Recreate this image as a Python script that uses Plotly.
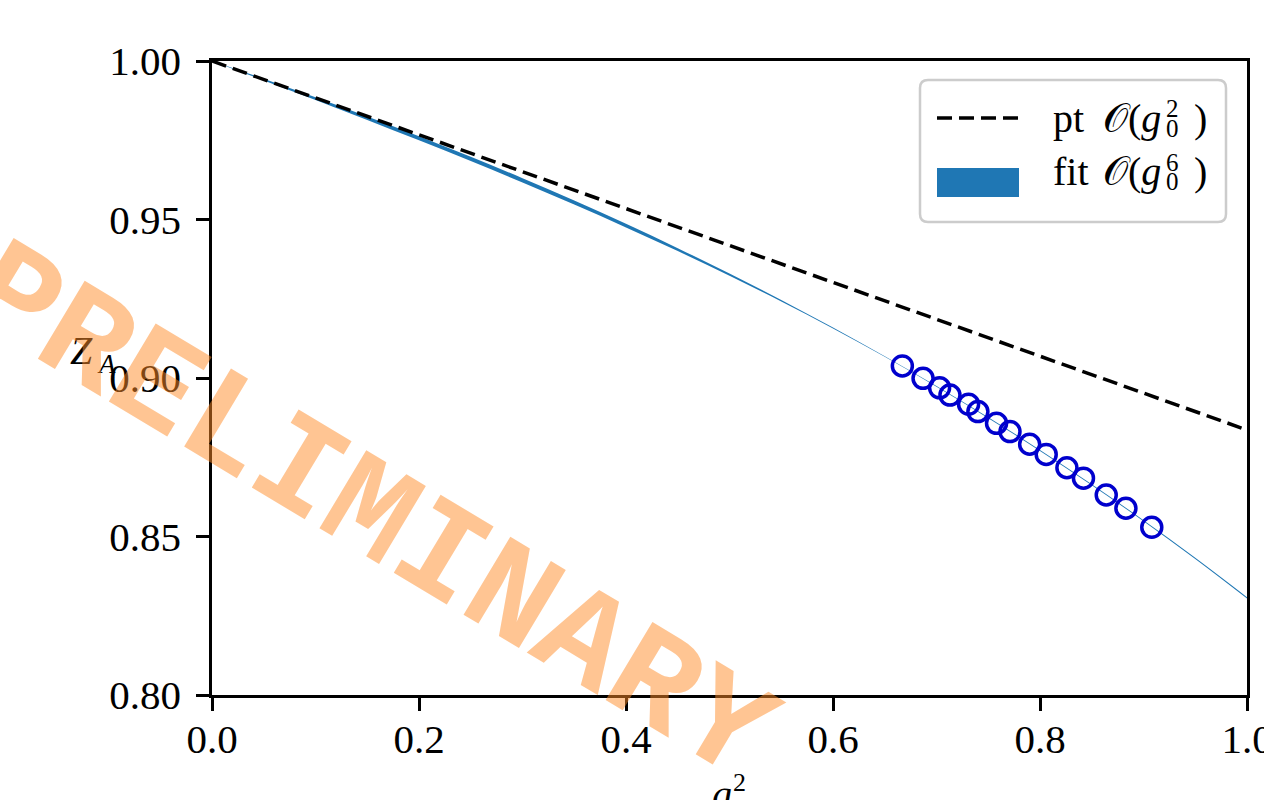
import plotly.graph_objects as go

# ---------------- data ----------------
# lattice data points (g0^2, Z_A)
pts_g2 = [0.667, 0.687, 0.703, 0.713, 0.731, 0.740, 0.758, 0.771, 0.790, 0.806,
          0.826, 0.842, 0.864, 0.883, 0.908]
pts_za = [0.9038, 0.8999, 0.8969, 0.8946, 0.8917, 0.8894, 0.8857, 0.8831, 0.8791, 0.8759,
          0.8717, 0.8684, 0.8631, 0.8589, 0.8529]

# fit O(g0^6): central curve and half-width of the band
fit_g2 = [0.00, 0.05, 0.10, 0.15, 0.20, 0.25, 0.30, 0.35, 0.40, 0.45, 0.50,
          0.55, 0.60, 0.65, 0.70, 0.75, 0.80, 0.85, 0.90, 0.95, 1.00]
fit_za = [1.00000, 0.99412, 0.98812, 0.98196, 0.97563, 0.96910, 0.96235, 0.95535,
          0.94807, 0.94050, 0.93261, 0.92437, 0.91576, 0.90676, 0.89734, 0.88747,
          0.87714, 0.86631, 0.85497, 0.84309, 0.83064]
fit_err = [0.0, 0.00026, 0.00042, 0.00055, 0.00065, 0.00068, 0.00068, 0.00065,
           0.00056, 0.00046, 0.00036, 0.00026, 0.00017, 0.00008, 0.00010, 0.00014,
           0.00016, 0.00017, 0.00017, 0.00019, 0.00022]

# perturbation theory O(g0^2)
pt_g2 = [0.0, 1.0]
pt_za = [1.0, 0.8836]

x_ticks = [0.0, 0.2, 0.4, 0.6, 0.8, 1.0]
x_ticklabels = ["0.0", "0.2", "0.4", "0.6", "0.8", "1.0"]
y_ticks = [0.80, 0.85, 0.90, 0.95, 1.00]
y_ticklabels = ["0.80", "0.85", "0.90", "0.95", "1.00"]

# ---------------- figure ----------------
W, H = 1264, 800
L, R, T, B = 212, 1247, 61, 695
BLUE = "#1f77b4"
SERIF = "Liberation Serif"


def px(xp):
    return (xp - L) / (R - L)


def py(yp):
    return (B - yp) / (B - T)


fit_lo = [c - e for c, e in zip(fit_za, fit_err)]
fit_hi = [c + e for c, e in zip(fit_za, fit_err)]

fig = go.Figure()
fig.add_trace(go.Scatter(x=fit_g2, y=fit_lo, mode="lines", line=dict(width=0, color=BLUE, shape="spline"),
                         hoverinfo="skip", showlegend=False))
fig.add_trace(go.Scatter(x=fit_g2, y=fit_hi, mode="lines", line=dict(width=0, color=BLUE, shape="spline"),
                         fill="tonexty", fillcolor=BLUE, showlegend=False))
fig.add_trace(go.Scatter(x=pt_g2, y=pt_za, mode="lines",
                         line=dict(color="black", width=3.5, dash="15px,7px"), showlegend=False))
fig.add_trace(go.Scatter(x=pts_g2, y=pts_za, mode="markers",
                         marker=dict(symbol="circle-open", size=20, color="#0000CD",
                                     line=dict(width=3.5, color="#0000CD")),
                         showlegend=False))

axis_common = dict(showline=True, linecolor="black", linewidth=2.5, mirror=True,
                   ticks="outside", ticklen=13, tickwidth=2.5, tickcolor="black",
                   showgrid=False, zeroline=False, ticklabeloverflow="allow",
                   automargin=False,
                   tickfont=dict(family=SERIF, size=41, color="black"))

fig.update_xaxes(range=[0, 1], tickvals=x_ticks, ticktext=x_ticklabels,
                 ticklabelstandoff=-7, **axis_common)
fig.update_yaxes(range=[0.80, 1.00], tickvals=y_ticks, ticktext=y_ticklabels,
                 ticklabelstandoff=7, **axis_common)

annotations = []
shapes = []


def txt(s, xp, yp, size, xanchor="center"):
    annotations.append(dict(text=s, xref="paper", yref="paper", x=px(xp), y=py(yp),
                            xanchor=xanchor, yanchor="middle", showarrow=False,
                            font=dict(family=SERIF, size=size, color="black")))


# axis labels
txt("<i>Z</i>", 81, 350, 40)
txt("<i>A</i>", 106, 364, 27)
txt("<i>g</i>", 722, 795, 40)
txt("2", 739, 782, 26)

# manual legend
r = 8
x0, x1, y0, y1 = px(920), px(1226), py(80), py(222)
rx, ry = r / (R - L), r / (B - T)
path = (f"M {x0+rx},{y0} L {x1-rx},{y0} Q {x1},{y0} {x1},{y0-ry} "
        f"L {x1},{y1+ry} Q {x1},{y1} {x1-rx},{y1} L {x0+rx},{y1} Q {x0},{y1} {x0},{y1+ry} "
        f"L {x0},{y0-ry} Q {x0},{y0} {x0+rx},{y0} Z")
shapes.append(dict(type="path", path=path, xref="paper", yref="paper", layer="above",
                   fillcolor="rgba(255,255,255,0.8)", line=dict(color="#cccccc", width=2.5)))
shapes.append(dict(type="line", xref="paper", yref="paper", x0=px(937), x1=px(1019),
                   y0=py(118), y1=py(118), layer="above",
                   line=dict(color="black", width=3.5, dash="15px,7px")))
shapes.append(dict(type="rect", xref="paper", yref="paper", x0=px(937), x1=px(1019),
                   y0=py(168), y1=py(197), layer="above", fillcolor=BLUE, line=dict(width=0)))

for dy, word, sup in [(0, "pt", "2"), (53, "fit", "6")]:
    txt(word, 1051, 118 + dy, 40, "left")
    txt("𝒪(<i>g</i>", 1101, 118 + dy, 40, "left")
    txt(sup, 1172, 109 + dy, 25)
    txt("0", 1172, 128 + dy, 25)
    txt(")", 1192, 118 + dy, 40, "left")

# watermark
annotations.append(dict(text="<b>PRELIMINARY</b>", xref="paper", yref="paper",
                        x=px(368), y=py(514), xanchor="center", yanchor="middle",
                        textangle=31, showarrow=False,
                        font=dict(family="Liberation Mono", size=138,
                                  color="rgba(255,140,40,0.5)")))

fig.update_layout(width=W, height=H,
                  margin=dict(l=L, r=W - R, t=T, b=H - B),
                  paper_bgcolor="white", plot_bgcolor="white",
                  annotations=annotations, shapes=shapes, showlegend=False)

fig.write_html("out.html", config={"responsive": False, "displayModeBar": False},
               post_script="document.body.style.margin='0';document.body.style.overflow='hidden';")
